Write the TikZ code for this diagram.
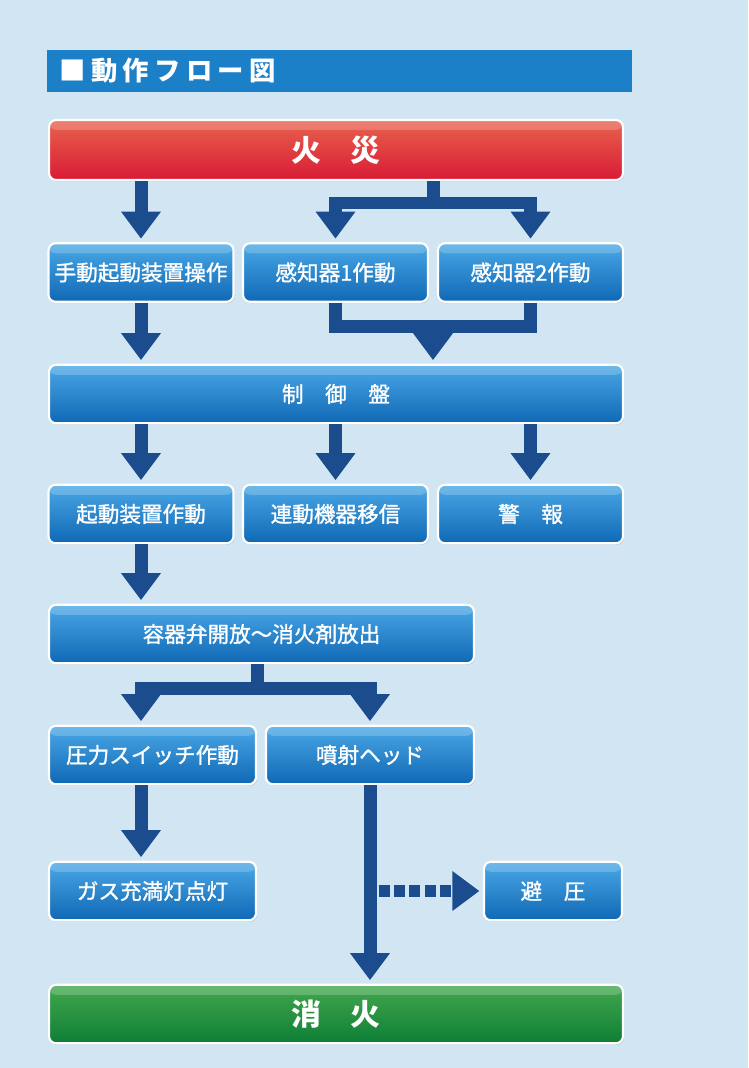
\documentclass[tikz,border=0pt]{standalone}
\usepackage{fontspec}
\usetikzlibrary{arrows.meta,shadows}
\setmainfont{Noto Sans CJK JP}
\newfontfamily\titlefont[LetterSpace=20]{Noto Sans CJK JP}
\newfontfamily\boxfont[FakeBold=1.3]{Noto Sans CJK JP}
\definecolor{bgc}{HTML}{D2E5F3}
\definecolor{barc}{HTML}{1C80C8}
\definecolor{arrowc}{HTML}{1A4C8E}
\definecolor{boxtop}{HTML}{4AA8E6}
\definecolor{boxbot}{HTML}{1068B5}
\definecolor{firetop}{HTML}{E8624C}
\definecolor{firebot}{HTML}{D81B36}
\definecolor{exttop}{HTML}{43A84E}
\definecolor{extbot}{HTML}{0E7E35}

\begin{document}
\begin{tikzpicture}[x=0.02cm,y=-0.02cm,
    box/.style={draw=white,line width=1.2pt,rounded corners=4pt,
      top color=boxtop,bottom color=boxbot,text=white,
      minimum height=1.17cm,inner sep=0pt,
      font=\fontsize{12.3}{14}\boxfont,
      drop shadow={opacity=.3,shadow xshift=.6pt,shadow yshift=-.8pt},
      path picture={\fill[white,opacity=.2] (path picture bounding box.north west)
        rectangle ([yshift=-.2cm]path picture bounding box.north east);}},
    bigbox/.style={box,minimum width=11.48cm,font=\fontsize{17}{20}\selectfont\bfseries},
    line/.style={draw=arrowc,line width=0.26cm},
    flow/.style={line,-{Triangle[width=0.76cm,length=0.54cm]},shorten >=2pt},
    dashflow/.style={flow,line width=0.24cm,dash pattern=on 0.22cm off 0.09cm,shorten <=0.17cm}]
  \fill[bgc] (0,0) rectangle (748,1068);

  % title
  \node[fill=barc,text=white,minimum height=0.84cm,text width=11.2cm,inner xsep=0.25cm,
    align=left,font=\fontsize{15}{16}\titlefont\bfseries] (title) at (339.5,71) {■動作フロー図};

  % boxes
  \node[bigbox,top color=firetop,bottom color=firebot,minimum height=1.2cm] (fire) at (336,150) {火　災};
  \node[box,minimum width=3.7cm] (man) at (141,272.5) {手動起動装置操作};
  \node[box,minimum width=3.7cm] (sen1) at (335.5,272.5) {感知器1作動};
  \node[box,minimum width=3.7cm] (sen2) at (530.5,272.5) {感知器2作動};
  \node[box,minimum width=11.48cm] (ctrl) at (336,394) {制　御　盤};
  \node[box,minimum width=3.7cm] (start) at (141,514) {起動装置作動};
  \node[box,minimum width=3.7cm] (link) at (335.5,514) {連動機器移信};
  \node[box,minimum width=3.7cm] (alarm) at (530.5,514) {警　報};
  \node[box,minimum width=8.5cm] (valve) at (261.5,634) {容器弁開放～消火剤放出};
  \node[box,minimum width=4.14cm] (press) at (152.5,755) {圧力スイッチ作動};
  \node[box,minimum width=4.16cm] (noz) at (370,755) {噴射ヘッド};
  \node[box,minimum width=4.14cm] (gas) at (152.5,891) {ガス充満灯点灯};
  \node[box,minimum width=2.76cm] (avoid) at (553,891) {避　圧};
  \node[bigbox,top color=exttop,bottom color=extbot] (ext) at (336,1014) {消　火};

  % junctions
  \coordinate (s1) at (433,203);
  \coordinate (m1) at (433,326);
  \coordinate (s2) at (257,688);

  % connectors
  \draw[flow] (fire.south -| man.north) -- (man.north);
  \draw[line] (fire.south -| s1) -- (s1);
  \draw[flow] (s1) -| (sen1.north);
  \draw[flow] (s1) -| (sen2.north);
  \draw[flow] (man.south) -- (ctrl.north -| man.south);
  \draw[line] (sen1.south) |- (m1);
  \draw[line] (sen2.south) |- (m1);
  \draw[flow] (m1) -- (ctrl.north -| m1);
  \draw[flow] (ctrl.south -| start.north) -- (start.north);
  \draw[flow] (ctrl.south -| link.north) -- (link.north);
  \draw[flow] (ctrl.south -| alarm.north) -- (alarm.north);
  \draw[flow] (start.south) -- (valve.north -| start.south);
  \draw[line] (valve.south -| s2) -- (s2);
  \draw[flow] (s2) -| (press.north -| start.south);
  \draw[flow] (s2) -| (noz.north);
  \draw[flow] (press.south -| start.south) -- (gas.north -| start.south);
  \draw[flow] (noz.south) -- (ext.north -| noz.south);
  \draw[dashflow] (noz.south |- avoid.west) -- (avoid.west);
\end{tikzpicture}
\end{document}
